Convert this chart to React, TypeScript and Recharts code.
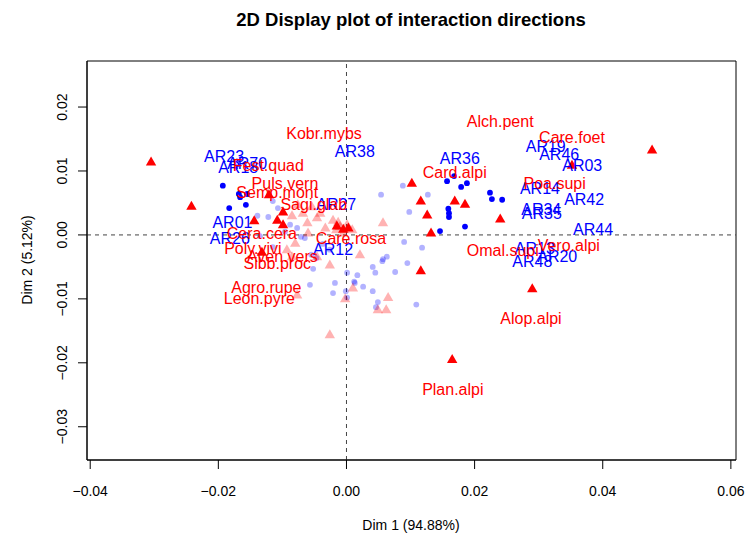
import { ScatterChart, Scatter, XAxis, YAxis, ReferenceLine, ReferenceArea } from 'recharts';

const FONT = '"Liberation Sans", Arial, Helvetica, sans-serif';
const RED = '#ff0000';
const BLUE = '#0000ff';

// axis setup
const xDomain: [number, number] = [-0.0405, 0.0608];
const yDomain: [number, number] = [-0.0352, 0.0272];
const xTicks = [-0.04, -0.02, 0, 0.02, 0.04, 0.06];
const yTicks = [-0.03, -0.02, -0.01, 0, 0.01, 0.02];

// species well represented (solid red triangles)
const speciesMain: [number, number][] = [
  [-0.0305, 0.0114], [-0.0242, 0.0045], [-0.0121, 0.0063], [-0.0099, 0.0036],
  [-0.0144, 0.0022], [-0.0108, 0.0023], [-0.0099, 0.0016], [-0.0132, -0.0027],
  [0.0102, 0.0081], [0.0116, 0.0053], [0.0126, 0.0031], [0.0169, 0.0053],
  [0.0185, 0.0048], [0.024, 0.0025], [0.0132, 0.0003], [0.0116, -0.0056],
  [0.0352, 0.0109], [0.0477, 0.0133], [0.029, -0.0084], [0.0165, -0.0195],
  [-0.0015, 0.0014], [-0.0005, 0.0009], [0.0003, 0.0011],
];

// species poorly represented (pale triangles)
const speciesPale: [number, number][] = [
  [-0.0085, 0.003], [-0.0061, 0.0019], [-0.0046, 0.0027], [-0.0041, 0.0034],
  [-0.0054, 0.0044], [-0.0068, 0.0034], [-0.0021, 0.0023], [-0.001, 0.0013],
  [0.0001, 0.0016], [0.0009, 0.0008], [-0.008, -0.0013], [-0.0093, -0.0023],
  [-0.006, 0.0003], [-0.0046, -0.0034], [-0.0026, -0.0047], [0.0021, -0.0031],
  [0.001, -0.0083], [-0.0077, -0.0094], [-0.0085, -0.0034], [-0.0026, -0.0156],
  [-0.0002, -0.01], [0.0049, -0.0117], [0.0062, -0.0117], [0.0065, -0.0098],
  [0.0057, 0.0019], [-0.0033, 0.0011], [-0.0016, 0.0008], [-0.0005, 0.0003],
  [-0.0013, 0.002], [-0.0076, 0.0047],
];

// sites well represented (blue dots)
const sitesMain: [number, number][] = [
  [-0.0193, 0.0077], [-0.0168, 0.0064], [-0.0166, 0.0059], [-0.0155, 0.0064],
  [-0.0157, 0.0047], [-0.0183, 0.0042], [0.0157, 0.0084], [0.0168, 0.0092],
  [0.0179, 0.0075], [0.0188, 0.0081], [0.0224, 0.0066], [0.0227, 0.0056],
  [0.0243, 0.0055], [0.0159, 0.0041], [0.016, 0.0034], [0.016, 0.0028],
  [0.0146, 0.0006], [0.0185, 0.0013],
];

// sites poorly represented (pale dots)
const sitesPale: [number, number][] = [
  [-0.0115, 0.0053], [-0.0107, 0.0042], [-0.0139, 0.003], [-0.0122, 0.0028],
  [-0.0135, -0.0002], [-0.0115, -0.0019], [-0.0077, 0.0011], [-0.0071, -0.0003],
  [-0.0065, -0.0005], [-0.0052, -0.0053], [-0.0018, -0.0075], [0.0017, -0.0063],
  [0.0013, -0.0075], [0.0049, -0.0105], [0.0054, 0.0063], [0.0041, -0.005],
  [0.0063, -0.0034], [0.0056, -0.0041], [-0.0057, -0.0078], [-0.0021, -0.0091],
  [-0.0001, -0.0088], [0.0001, -0.0098], [0.0012, -0.0073], [0.0026, -0.0081],
  [0.0041, -0.0088], [0.0045, -0.0059], [0.0076, -0.0058], [0.0046, -0.0113],
  [0.0109, -0.0109], [0.0088, 0.0077], [0.0098, 0.0036], [0.0127, 0.0063],
  [0.009, -0.0011], [0.0118, -0.002], [0.0057, -0.0038], [0.0095, -0.0044],
  [0.0001, -0.0059], [-0.0088, 0.0016], [-0.0055, -0.0031], [-0.0037, -0.0014],
  [-0.0026, -0.0023], [-0.0047, -0.0036], [-0.0096, 0.0005],
];

// label positions as placed on the plot
const speciesLabels: [string, number, number][] = [
  ['Kobr.mybs', -0.0035, 0.0158], ['Alch.pent', 0.024, 0.0178], ['Care.foet', 0.0352, 0.0152],
  ['Fest.quad', -0.0122, 0.0108], ['Card.alpi', 0.0169, 0.0098], ['Puls.vern', -0.0096, 0.008],
  ['Semp.mont', -0.0108, 0.0067], ['Poa.supi', 0.0325, 0.0081], ['Sagi.glab', -0.0051, 0.0048],
  ['Cera.cera', -0.0132, 0.0003], ['Care.rosa', 0.0007, -0.0005], ['Omal.supi', 0.0244, -0.0025],
  ['Vero.alpi', 0.0347, -0.0016], ['Poly.vivi', -0.0146, -0.0022], ['Aven.vers', -0.01, -0.0033],
  ['Sibb.proc', -0.0108, -0.0044], ['Agro.rupe', -0.0125, -0.0083], ['Leon.pyre', -0.0136, -0.01],
  ['Alop.alpi', 0.0288, -0.0131], ['Plan.alpi', 0.0166, -0.0242],
];

const siteLabels: [string, number, number][] = [
  ['AR23', -0.0191, 0.0122], ['AR70', -0.0155, 0.0111], ['AR18', -0.0169, 0.0105],
  ['AR38', 0.0013, 0.013], ['AR36', 0.0177, 0.012], ['AR19', 0.0311, 0.0138],
  ['AR46', 0.0332, 0.0125], ['AR03', 0.0368, 0.0109], ['AR14', 0.0302, 0.0073],
  ['AR42', 0.0371, 0.0055], ['AR34', 0.0304, 0.0039], ['AR35', 0.0305, 0.0033],
  ['AR44', 0.0385, 0.0008], ['AR13', 0.0294, -0.0022], ['AR20', 0.0329, -0.0033],
  ['AR48', 0.029, -0.0041], ['AR27', -0.0016, 0.0047], ['AR01', -0.0178, 0.0019],
  ['AR26', -0.0182, -0.0005], ['AR12', -0.0021, -0.0023],
];

const pts = (a: [number, number][]) => a.map(([x, y]) => ({ x, y }));
const lbl = (a: [string, number, number][]) => a.map(([name, x, y]) => ({ name, x, y }));

const fmt = (v: number) => v.toFixed(2).replace('-', '\u2212');

const triangle = (color: string, opacity: number) => (p: any) => {
  const { cx, cy } = p;
  if (cx == null || cy == null) return <g />;
  return (
    <path
      d={`M${cx},${cy - 5.5}L${cx + 5.2},${cy + 3.5}L${cx - 5.2},${cy + 3.5}Z`}
      fill={color}
      fillOpacity={opacity}
    />
  );
};

const dot = (color: string, opacity: number) => (p: any) => {
  const { cx, cy } = p;
  if (cx == null || cy == null) return <g />;
  return <circle cx={cx} cy={cy} r={2.9} fill={color} fillOpacity={opacity} />;
};

const label = (color: string) => (p: any) => {
  const { cx, cy, payload } = p;
  if (cx == null || cy == null) return <g />;
  return (
    <text x={cx} y={cy} textAnchor="middle" dominantBaseline="central"
      fill={color} fontSize={16} fontFamily={FONT}>
      {payload.name}
    </text>
  );
};

const XTick = ({ x, y, payload }: any) => (
  <text x={x} y={y} textAnchor="middle" dominantBaseline="central" fontSize={14} fontFamily={FONT} fill="#000">
    {fmt(payload.value)}
  </text>
);

const YTick = ({ x, y, payload }: any) => (
  <text x={x} y={y} transform={`rotate(-90 ${x} ${y})`} textAnchor="middle" dominantBaseline="central"
    fontSize={14} fontFamily={FONT} fill="#000">
    {fmt(payload.value)}
  </text>
);

export default function App() {
  return (
    <div style={{ position: 'absolute', left: 0, top: 0, width: 746, height: 536, background: '#fff', fontFamily: FONT }}>
      <div style={{ position: 'absolute', left: 411, top: 20, transform: 'translate(-50%, -50%)', whiteSpace: 'nowrap', fontWeight: 'bold', fontSize: 18.5 }}>
        2D Display plot of interaction directions
      </div>
      <div style={{ position: 'absolute', left: 411, top: 525, transform: 'translate(-50%, -50%)', whiteSpace: 'nowrap', fontSize: 14 }}>
        Dim 1 (94.88%)
      </div>
      <div style={{ position: 'absolute', left: 27, top: 260, transform: 'translate(-50%, -50%) rotate(-90deg)', whiteSpace: 'nowrap', fontSize: 14 }}>
        Dim 2 (5.12%)
      </div>
      <ScatterChart width={746} height={536} margin={{ top: 61, right: 10, bottom: 0, left: 0 }}>
        <XAxis type="number" dataKey="x" domain={xDomain} ticks={xTicks} allowDataOverflow
          height={76} tickSize={9} tickMargin={22} tick={<XTick />}
          axisLine={{ stroke: '#000' }} tickLine={{ stroke: '#000' }} />
        <YAxis type="number" dataKey="y" domain={yDomain} ticks={yTicks} allowDataOverflow
          width={87} tickSize={9} tickMargin={16} tick={<YTick />}
          axisLine={{ stroke: '#000' }} tickLine={{ stroke: '#000' }} />
        <ReferenceLine x={0} stroke="#444" strokeDasharray="4 4" />
        <ReferenceLine y={0} stroke="#444" strokeDasharray="4 4" />
        <Scatter data={pts(sitesPale)} shape={dot(BLUE, 0.3)} isAnimationActive={false} />
        <Scatter data={pts(speciesPale)} shape={triangle(RED, 0.3)} isAnimationActive={false} />
        <Scatter data={pts(sitesMain)} shape={dot(BLUE, 1)} isAnimationActive={false} />
        <Scatter data={pts(speciesMain)} shape={triangle(RED, 1)} isAnimationActive={false} />
        <Scatter data={lbl(siteLabels)} shape={label(BLUE)} isAnimationActive={false} />
        <Scatter data={lbl(speciesLabels)} shape={label(RED)} isAnimationActive={false} />
        <ReferenceArea x1={xDomain[0]} x2={xDomain[1]} y1={yDomain[0]} y2={yDomain[1]}
          fill="none" stroke="#000" strokeWidth={1} />
      </ScatterChart>
    </div>
  );
}
